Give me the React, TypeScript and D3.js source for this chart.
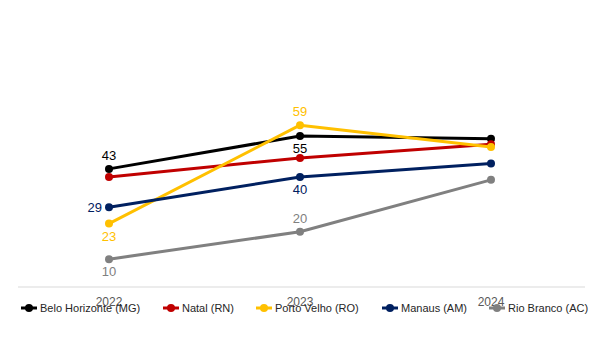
import React from "react";
import * as d3 from "d3";

const years = ["2022", "2023", "2024"];
const seriesNames = ["Belo Horizonte (MG)", "Natal (RN)", "Porto Velho (RO)", "Manaus (AM)", "Rio Branco (AC)"];
const beloHorizonte = [43, 55, 54];
const natal = [40, 47, 52];
const portoVelho = [23, 59, 51];
const manaus = [29, 40, 45];
const rioBranco = [10, 20, 39];
const colors = ["#000000", "#C00000", "#FFC000", "#002060", "#808080"];
// which point gets a label, and where it sits
const labelPos = [
  ["above", "below", null],
  [null, null, null],
  ["below", "above", null],
  ["left", "below", null],
  ["below", "above", null],
];
// left edge of each legend text
const legendTextX = [40, 182, 275, 401, 508];

export default function App() {
  const width = 600;
  const height = 350;
  const allSeries = [beloHorizonte, natal, portoVelho, manaus, rioBranco];

  const x = d3.scalePoint().domain(years).range([109, 491]);
  const y = d3.scaleLinear().domain([0, 100]).range([286.5, 13]);

  const line = d3
    .line<number>()
    .x((d, i) => x(years[i])!)
    .y((d) => y(d));

  return (
    <svg
      width={width}
      height={height}
      style={{ position: "absolute", left: 0, top: 0, fontFamily: "Arial, 'Liberation Sans', sans-serif" }}
    >
      <line x1={18} x2={585} y1={287} y2={287} stroke="#d9d9d9" strokeWidth={1} />
      {years.map((yr) => (
        <text key={yr} x={x(yr)} y={306} textAnchor="middle" fontSize={12} fill="#595959">
          {yr}
        </text>
      ))}
      {allSeries.map((s, si) => (
        <g key={si}>
          <path d={line(s)!} fill="none" stroke={colors[si]} strokeWidth={3} strokeLinejoin="round" />
          {s.map((v, i) => (
            <circle key={i} cx={x(years[i])} cy={y(v)} r={4} fill={colors[si]} />
          ))}
        </g>
      ))}
      {allSeries.map((s, si) =>
        s.map((v, i) => {
          const pos = labelPos[si][i];
          if (!pos) return null;
          const cx = x(years[i])!;
          const cy = y(v);
          let tx = cx;
          let ty = cy;
          let anchor = "middle";
          if (pos === "above") ty = cy - 9;
          if (pos === "below") ty = cy + 17;
          if (pos === "left") {
            tx = cx - 7;
            ty = cy + 5;
            anchor = "end";
          }
          return (
            <text key={`${si}-${i}`} x={tx} y={ty} textAnchor={anchor} fontSize={13} fill={colors[si]}>
              {v}
            </text>
          );
        })
      )}
      {seriesNames.map((name, si) => (
        <g key={name} transform={`translate(${legendTextX[si]},308)`}>
          <line x1={-19} x2={-3} y1={0} y2={0} stroke={colors[si]} strokeWidth={3} />
          <circle cx={-11} cy={0} r={4} fill={colors[si]} />
          <text x={0} y={4} fontSize={11} fill="#262626">
            {name}
          </text>
        </g>
      ))}
    </svg>
  );
}
